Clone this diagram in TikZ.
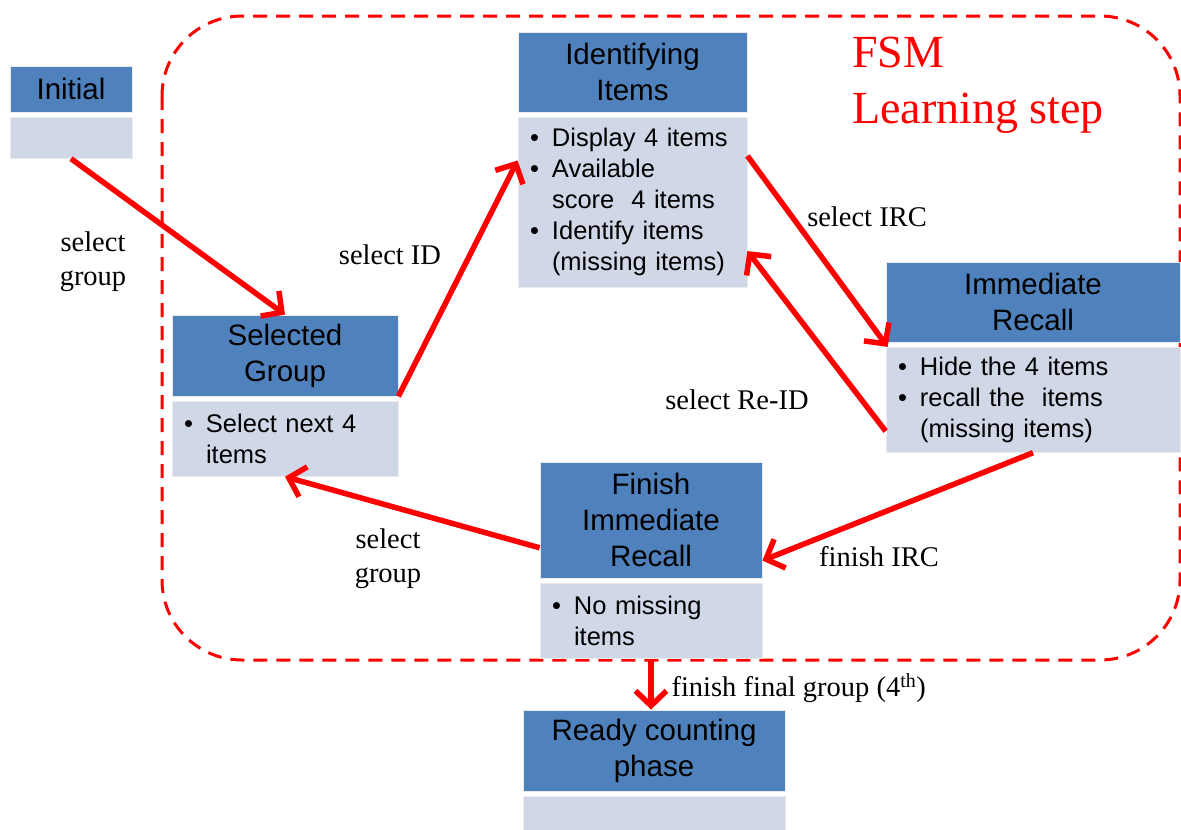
\documentclass[tikz,border=0pt]{standalone}
\usepackage{fontspec}
\setmainfont{Liberation Serif}
\newfontfamily\arialfam{Liberation Sans}
\usetikzlibrary{arrows.meta,positioning}
\definecolor{HeadBlue}{RGB}{79,129,189}
\definecolor{BodyGrey}{RGB}{208,216,232}
\definecolor{FsmRed}{RGB}{255,0,0}
\newcommand\hdfont{\arialfam\fontsize{29.5}{36}\selectfont}
\newcommand\bdfont{\arialfam\fontsize{25.5}{31}\selectfont}
\newcommand\lbfont{\fontsize{28.5}{34}\selectfont}
\newcommand\bul{\makebox[22pt][l]{\textbullet}}
\newcommand\bulsp{\hspace*{22pt}}

\begin{document}
\begin{tikzpicture}[x=1pt,y=-1pt,
hdr/.style={fill=HeadBlue,draw=black!8,line width=.8pt,inner sep=0pt,align=center,font=\hdfont},
bdy/.style={fill=BodyGrey,draw=black!8,line width=.8pt,inner xsep=12pt,inner ysep=0pt,align=left,font=\bdfont},
lbl/.style={font=\lbfont,align=center},
arr/.style={FsmRed,line width=5.5pt,-{Straight Barb[length=15pt,width=31pt]}}]
\useasboundingbox (0,0) rectangle (1181,830);
% learning step region
\draw[FsmRed,line width=3pt,dash pattern=on 14pt off 9pt,rounded corners=80pt] (162,16) rectangle (1180,660);
\node[anchor=north west,inner sep=0pt,align=left,text=FsmRed,font=\fontsize{46}{56}\selectfont] (fsm) at (852,37) {FSM\\Learning step};

% states
\node[hdr,minimum width=122pt,minimum height=46pt] (inH) at (71,89) {Initial};
\node[bdy,below=4.5pt of inH,text width=98pt,minimum height=41pt] (inB) {};
\node[hdr,minimum width=226pt,minimum height=81pt] (sgH) at (285,355.5) {Selected\\Group};
\node[bdy,below=4.5pt of sgH,text width=202pt,minimum height=75pt] (sgB) {\bul Select next 4\\\bulsp items};
\node[hdr,minimum width=229pt,minimum height=80pt] (idH) at (632.5,72) {Identifying\\Items};
\node[bdy,below=4.5pt of idH,text width=205pt,minimum height=170pt] (idB) {\bul Display 4 items\\\bul Available\\\bulsp score\ \ 4 items\\\bul Identify items\\\bulsp (missing items)};
\node[hdr,minimum width=294pt,minimum height=80pt] (imH) at (1033,302) {Immediate\\Recall};
\node[bdy,below=4.5pt of imH,text width=270pt,minimum height=105pt] (imB) {\bul Hide the 4 items\\\bul recall the\ \ items\\\bulsp (missing items)};
\node[hdr,minimum width=222pt,minimum height=116pt] (fiH) at (651,520) {Finish\\Immediate\\Recall};
\node[bdy,below=4.5pt of fiH,text width=198pt,minimum height=75pt] (fiB) {\bul No missing\\\bulsp items};
\node[hdr,minimum width=262pt,minimum height=81pt] (rdH) at (654,750.5) {Ready counting\\phase};
\node[bdy,below=4.5pt of rdH,text width=238pt,minimum height=45pt] (rdB) {};

% transition labels
\node[lbl] (gA) at (93,262) {select\\group};
\node[lbl] (gB) at (390,255) {select ID};
\node[lbl] (gC) at (867,217) {select IRC};
\node[lbl] (gD) at (737,400) {select Re-ID};
\node[lbl] (gE) at (879,557) {finish IRC};
\node[lbl] (gF) at (388,559) {select\\group};
\node[lbl,anchor=west] (gG) at (668,688) {finish final group (4\textsuperscript{th})};

% transitions
\draw[arr] (inB.south) -- (sgH.north);
\draw[arr] (sgH.south east) -- (idB.160);
\draw[arr] (idB.22) -- (imB.160);
\draw[arr] (imB.192) -- (idB.337);
\draw[arr] (imB.south) -- (fiH.340);
\draw[arr] (fiH.194) -- (sgB.south);
\draw[arr] (fiB.south) -- (fiB.south |- rdH.north);
\end{tikzpicture}
\end{document}
